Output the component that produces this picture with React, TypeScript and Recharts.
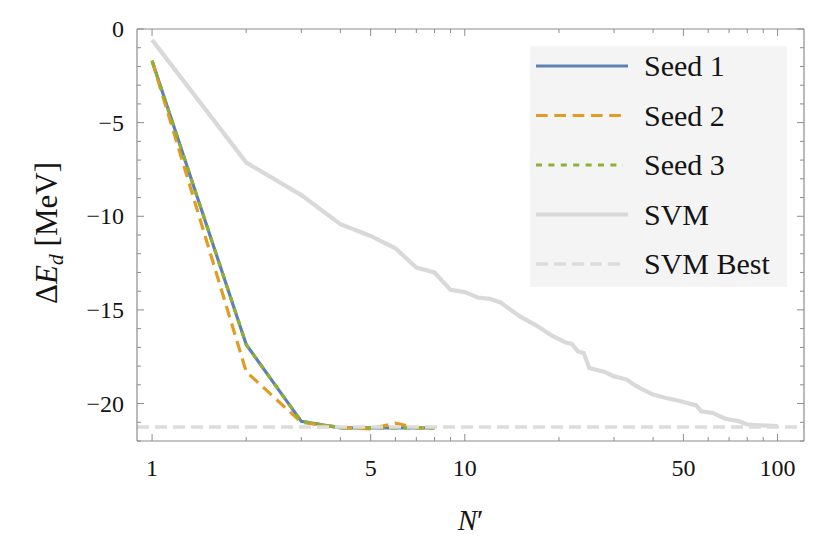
import React from "react";
import { LineChart, Line, XAxis, YAxis } from "recharts";

// N' values of the three seeds
const seedN = [1, 2, 3, 4, 5, 6, 7, 8];
const seed1 = [-1.7, -16.85, -20.95, -21.3, -21.3, -21.3, -21.3, -21.3];
const seed2 = [-1.7, -18.3, -21.0, -21.3, -21.35, -21.05, -21.3, -21.3];
const seed3 = [-1.7, -16.85, -20.95, -21.28, -21.3, -21.3, -21.3, -21.3];

// SVM curve
const svmN = [
  1, 2, 3, 4, 5, 6, 7, 8, 9, 10, 11, 12, 13, 15, 17, 19, 21, 22, 23, 24, 25,
  28, 30, 33, 35, 37, 40, 44, 48, 55, 57, 62, 68, 75, 80, 85, 100,
];
const svmE = [
  -0.58, -7.13, -8.87, -10.42, -11.05, -11.71, -12.74, -13.0, -13.93, -14.05,
  -14.34, -14.41, -14.6, -15.35, -15.85, -16.38, -16.74, -16.82, -17.22, -17.3,
  -18.1, -18.31, -18.55, -18.72, -19.03, -19.25, -19.52, -19.7, -19.84, -20.1,
  -20.41, -20.5, -20.81, -20.94, -21.12, -21.15, -21.21,
];
const svmBest = -21.25;

const xDomain = [0.895, 121.5];
const yDomain = [-22, 0];
const xTicks = [1, 2, 3, 4, 5, 6, 7, 8, 9, 10, 20, 30, 40, 50, 60, 70, 80, 90, 100];
const xLabels = [1, 5, 10, 50, 100];
const yTicks = [
  -22, -21, -20, -19, -18, -17, -16, -15, -14, -13, -12, -11, -10, -9, -8, -7,
  -6, -5, -4, -3, -2, -1, 0,
];
const yLabels = [-20, -15, -10, -5, 0];

const zip = (xs: number[], ys: number[]) => xs.map((n, i) => ({ n, v: ys[i] }));

const SERIES = [
  { name: "Seed 1", data: zip(seedN, seed1), color: "#5e81b5", width: 3.2, dash: undefined, legendLen: 92 },
  { name: "Seed 2", data: zip(seedN, seed2), color: "#e19c24", width: 3.2, dash: "11.7 6.6", legendLen: 87 },
  { name: "Seed 3", data: zip(seedN, seed3), color: "#8fb032", width: 3.2, dash: "6 6.4", legendLen: 87 },
  { name: "SVM", data: zip(svmN, svmE), color: "#d9d9d9", width: 4.2, dash: undefined, legendLen: 92 },
  {
    name: "SVM Best",
    data: xDomain.map((n) => ({ n, v: svmBest })),
    color: "#dcdcdc",
    width: 3.5,
    dash: "12 6",
    legendLen: 87,
  },
];

const FRAME = "#8c8c8c";
const INK = "#141414";
const FONT = "Liberation Serif";

const fmt = (v: number) => (v < 0 ? "\u2212" + Math.abs(v) : String(v));

function BottomTick({ x, y, payload }: any) {
  const major = xLabels.includes(payload.value);
  return (
    <g>
      <line x1={x} x2={x} y1={y} y2={y - (major ? 7 : 4)} stroke={FRAME} />
      {major && (
        <text x={x} y={y + 35} textAnchor="middle" fontSize={24} fontFamily={FONT} fill={INK}>
          {payload.value}
        </text>
      )}
    </g>
  );
}

function TopTick({ x, y, payload }: any) {
  const major = xLabels.includes(payload.value);
  return <line x1={x} x2={x} y1={y} y2={y + (major ? 7 : 4)} stroke={FRAME} />;
}

function LeftTick({ x, y, payload }: any) {
  const major = yLabels.includes(payload.value);
  return (
    <g>
      <line x1={x} x2={x + (major ? 7 : 4)} y1={y} y2={y} stroke={FRAME} />
      {major && (
        <text x={x - 13} y={y + 8} textAnchor="end" fontSize={24} fontFamily={FONT} fill={INK}>
          {fmt(payload.value)}
        </text>
      )}
    </g>
  );
}

function RightTick({ x, y, payload }: any) {
  const major = yLabels.includes(payload.value);
  return <line x1={x} x2={x - (major ? 7 : 4)} y1={y} y2={y} stroke={FRAME} />;
}

function XLabel({ viewBox }: any) {
  const cx = viewBox.x + viewBox.width / 2;
  return (
    <text x={cx} y={viewBox.y + 89} textAnchor="middle" fontSize={29} fontFamily={FONT} fill={INK}>
      <tspan fontStyle="italic">N</tspan>
      <tspan>{"\u2032"}</tspan>
    </text>
  );
}

function YLabel({ viewBox }: any) {
  const cy = viewBox.y + viewBox.height / 2 - 2;
  const cx = 57;
  return (
    <text
      x={cx}
      y={cy}
      transform={`rotate(-90 ${cx} ${cy})`}
      textAnchor="middle"
      fontSize={31}
      fontFamily={FONT}
      fill={INK}
    >
      <tspan>{"\u0394"}</tspan>
      <tspan fontStyle="italic">E</tspan>
      <tspan fontStyle="italic" fontSize={22} dy={6}>d</tspan>
      <tspan dy={-6}>{" [MeV]"}</tspan>
    </text>
  );
}

function LegendBox() {
  return (
    <svg width={257} height={241} style={{ display: "block" }}>
      <rect width={257} height={241} fill="#f4f4f4" />
      {SERIES.map((s, i) => {
        const cy = 20 + i * 49.5;
        return (
          <g key={s.name}>
            <line
              x1={6}
              x2={6 + s.legendLen}
              y1={cy}
              y2={cy}
              stroke={s.color}
              strokeWidth={s.width}
              strokeDasharray={s.dash}
            />
            <text x={114} y={cy + 10} fontSize={30} fontFamily={FONT} fill={INK}>
              {s.name}
            </text>
          </g>
        );
      })}
    </svg>
  );
}

export default function App() {
  return (
    <div style={{ position: "absolute", left: 0, top: 0, width: 830, height: 559, background: "#fff" }}>
      <LineChart width={830} height={559} margin={{ top: 0, right: 0, bottom: 0, left: 0 }}>
        <XAxis
          dataKey="n"
          type="number"
          scale="log"
          domain={xDomain}
          allowDataOverflow
          ticks={xTicks}
          interval={0}
          height={118}
          tickSize={0}
          tickMargin={0}
          tickLine={false}
          axisLine={{ stroke: FRAME, strokeWidth: 1.2 }}
          tick={<BottomTick />}
          label={<XLabel />}
        />
        <XAxis
          xAxisId="top"
          orientation="top"
          dataKey="n"
          type="number"
          scale="log"
          domain={xDomain}
          allowDataOverflow
          ticks={xTicks}
          interval={0}
          height={29}
          tickSize={0}
          tickMargin={0}
          tickLine={false}
          axisLine={{ stroke: FRAME, strokeWidth: 1.2 }}
          tick={<TopTick />}
        />
        <YAxis
          type="number"
          domain={yDomain}
          allowDataOverflow
          ticks={yTicks}
          interval={0}
          width={137}
          tickSize={0}
          tickMargin={0}
          tickLine={false}
          axisLine={{ stroke: FRAME, strokeWidth: 1.2 }}
          tick={<LeftTick />}
          label={<YLabel />}
        />
        <YAxis
          yAxisId="right"
          orientation="right"
          type="number"
          domain={yDomain}
          allowDataOverflow
          ticks={yTicks}
          interval={0}
          width={26}
          tickSize={0}
          tickMargin={0}
          tickLine={false}
          axisLine={{ stroke: FRAME, strokeWidth: 1.2 }}
          tick={<RightTick />}
        />
        {[3, 0, 1, 2, 4].map((k) => {
          const s = SERIES[k];
          return (
            <Line
              key={s.name}
              data={s.data}
              dataKey="v"
              name={s.name}
              type="linear"
              stroke={s.color}
              strokeWidth={s.width}
              strokeDasharray={s.dash}
              dot={false}
              activeDot={false}
              isAnimationActive={false}
            />
          );
        })}
      </LineChart>
      <div style={{ position: "absolute", left: 530, top: 46 }}>
        <LegendBox />
      </div>
    </div>
  );
}
